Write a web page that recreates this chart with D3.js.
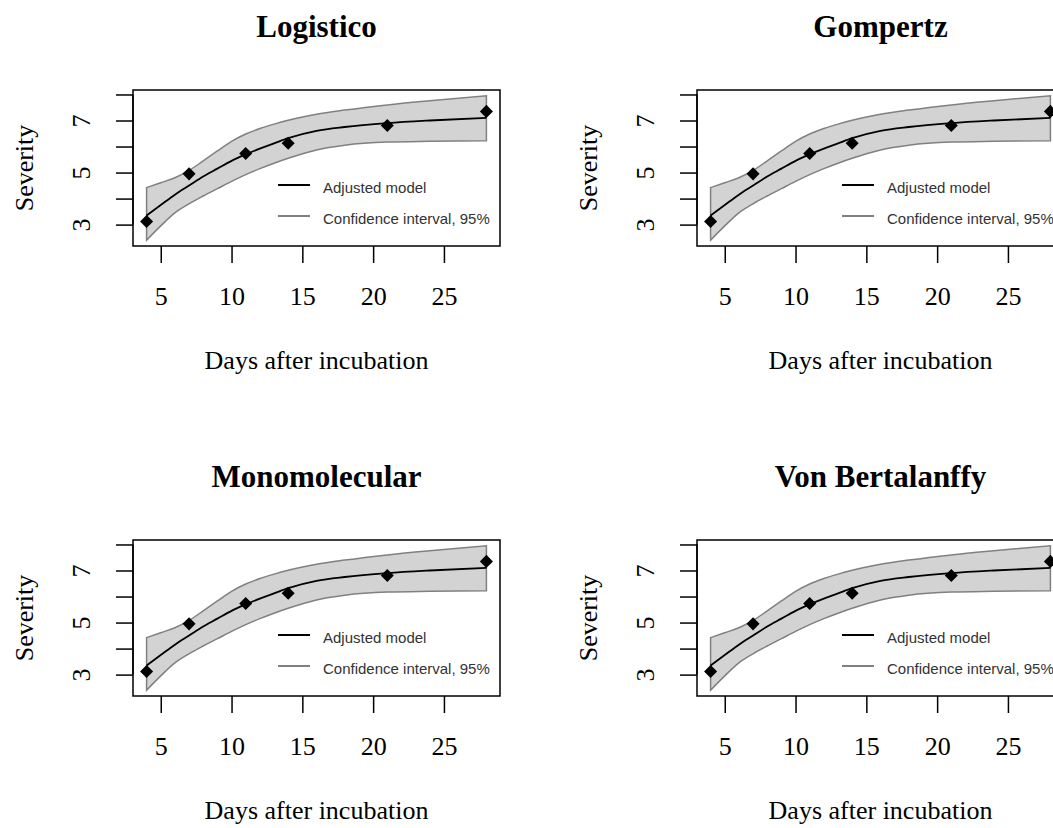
<!DOCTYPE html>
<html>
<head>
<meta charset="utf-8">
<script src="https://cdn.jsdelivr.net/npm/d3@7"></script>
<style>
  body { margin: 0; background: #fff; }
  svg { display: block; }
  .serif { font-family: "Liberation Serif", "Times New Roman", serif; }
  .legend text { font-family: "Liberation Sans", Arial, sans-serif; font-size: 15px; fill: #333; }
</style>
</head>
<body>
<svg width="1053" height="828"></svg>
<script>
const svg = d3.select("svg");

// panel titles (same data in every panel)
const titles = ["Logistico", "Gompertz", "Monomolecular", "Von Bertalanffy"];

// observed severity
const obsDays = [4, 7, 11, 14, 21, 28];
const obsSev = [3.12, 4.95, 5.73, 6.13, 6.81, 7.35];

// fitted curve and 95% band
const days  = [4, 5, 6, 7, 8, 9, 10, 11, 12, 13, 14, 16, 18, 21, 24, 28];
const fit   = [3.35, 3.75, 4.15, 4.5, 4.85, 5.15, 5.45, 5.7, 5.92, 6.12, 6.32, 6.6, 6.75, 6.9, 7.0, 7.1];
const lower = [2.40, 2.95, 3.45, 3.8, 4.1, 4.38, 4.66, 4.92, 5.15, 5.36, 5.55, 5.87, 6.05, 6.17, 6.20, 6.22];
const upper = [4.42, 4.61, 4.80, 5.08, 5.45, 5.83, 6.2, 6.48, 6.69, 6.86, 7.01, 7.24, 7.40, 7.60, 7.76, 7.95];

const xTicks = [5, 10, 15, 20, 25];
const yTicks = [3, 4, 5, 6, 7, 8];
const legendLabels = ["Adjusted model", "Confidence interval, 95%"];

const curve = days.map(function(d, i) {
    return { day: d, fit: fit[i], lo: lower[i], hi: upper[i] };
});
const points = obsDays.map(function(d, i) { return { day: d, sev: obsSev[i] }; });

// R style 4% extension of the data range
function rRange(lo, hi) {
    const e = (hi - lo) * 0.04;
    return [lo - e, hi + e];
}

const box = { left: 133, right: 500, top: 90, bottom: 246 };
const colW = 564, rowH = 450;

const x = d3.scaleLinear()
    .domain(rRange(d3.min(days), d3.max(days)))
    .range([box.left, box.right]);
const y = d3.scaleLinear()
    .domain(rRange(d3.min(lower), d3.max(upper)))
    .range([box.bottom, box.top]);

const band = d3.area()
    .x(function(d) { return x(d.day); })
    .y0(function(d) { return y(d.lo); })
    .y1(function(d) { return y(d.hi); })
    .curve(d3.curveMonotoneX);

const line = d3.line()
    .x(function(d) { return x(d.day); })
    .y(function(d) { return y(d.fit); })
    .curve(d3.curveMonotoneX);

function drawPanel(title, i) {
    const g = svg.append("g")
        .attr("transform", "translate(" + (i % 2) * colW + "," + Math.floor(i / 2) * rowH + ")");

    g.append("path")
        .datum(curve)
        .attr("d", band)
        .attr("fill", "#d3d3d3")
        .attr("stroke", "#808080")
        .attr("stroke-width", 1.5);

    g.append("path")
        .datum(curve)
        .attr("d", line)
        .attr("fill", "none")
        .attr("stroke", "#000")
        .attr("stroke-width", 1.8);

    g.selectAll(".pt")
        .data(points)
        .enter().append("path")
        .attr("class", "pt")
        .attr("d", d3.symbol().type(d3.symbolSquare).size(85))
        .attr("transform", function(d) {
            return "translate(" + x(d.day) + "," + y(d.sev) + ") rotate(45)";
        })
        .attr("fill", "#000");

    // legend, no frame
    const leg = g.append("g").attr("class", "legend");
    legendLabels.forEach(function(lab, k) {
        const ly = 185 + k * 31;
        leg.append("line")
            .attr("x1", 278).attr("x2", 310)
            .attr("y1", ly).attr("y2", ly)
            .attr("stroke", k === 0 ? "#000" : "#808080")
            .attr("stroke-width", 2);
        leg.append("text")
            .attr("x", 323)
            .attr("y", ly + 8)
            .text(lab);
    });

    g.append("rect")
        .attr("x", box.left).attr("y", box.top)
        .attr("width", box.right - box.left)
        .attr("height", box.bottom - box.top)
        .attr("fill", "none")
        .attr("stroke", "#000")
        .attr("stroke-width", 1.5);

    const xa = g.append("g")
        .attr("class", "serif")
        .attr("transform", "translate(0," + box.bottom + ")")
        .call(d3.axisBottom(x).tickValues(xTicks).tickSize(17).tickSizeOuter(0));
    xa.select(".domain").remove();
    xa.selectAll("line").attr("stroke-width", 1.5);
    xa.selectAll("text")
        .attr("y", 59).attr("dy", null)
        .attr("font-size", 26)
        .attr("font-family", "Liberation Serif")
        .attr("fill", "#000");

    const ya = g.append("g")
        .attr("transform", "translate(" + box.left + ",0)")
        .call(d3.axisLeft(y).tickValues(yTicks).tickSize(17).tickSizeOuter(0)
            .tickFormat(function(d) { return d % 2 ? d : ""; }));
    ya.select(".domain")
        .attr("d", "M0," + y(3) + "V" + y(8))
        .attr("stroke-width", 1.5);
    ya.selectAll("line").attr("stroke-width", 1.5);
    ya.selectAll("text")
        .attr("x", null).attr("dy", null)
        .attr("text-anchor", "middle")
        .attr("transform", "translate(-43,0) rotate(-90)")
        .attr("font-size", 26)
        .attr("font-family", "Liberation Serif")
        .attr("fill", "#000");

    g.append("text")
        .attr("class", "serif")
        .attr("x", (box.left + box.right) / 2)
        .attr("y", 37)
        .attr("text-anchor", "middle")
        .attr("font-size", 31)
        .attr("font-weight", "bold")
        .text(title);

    g.append("text")
        .attr("class", "serif")
        .attr("x", (box.left + box.right) / 2)
        .attr("y", 369)
        .attr("text-anchor", "middle")
        .attr("font-size", 26)
        .text("Days after incubation");

    g.append("text")
        .attr("class", "serif")
        .attr("transform", "translate(33," + (box.top + box.bottom) / 2 + ") rotate(-90)")
        .attr("text-anchor", "middle")
        .attr("font-size", 26)
        .text("Severity");
}

titles.forEach(drawPanel);
</script>
</body>
</html>
